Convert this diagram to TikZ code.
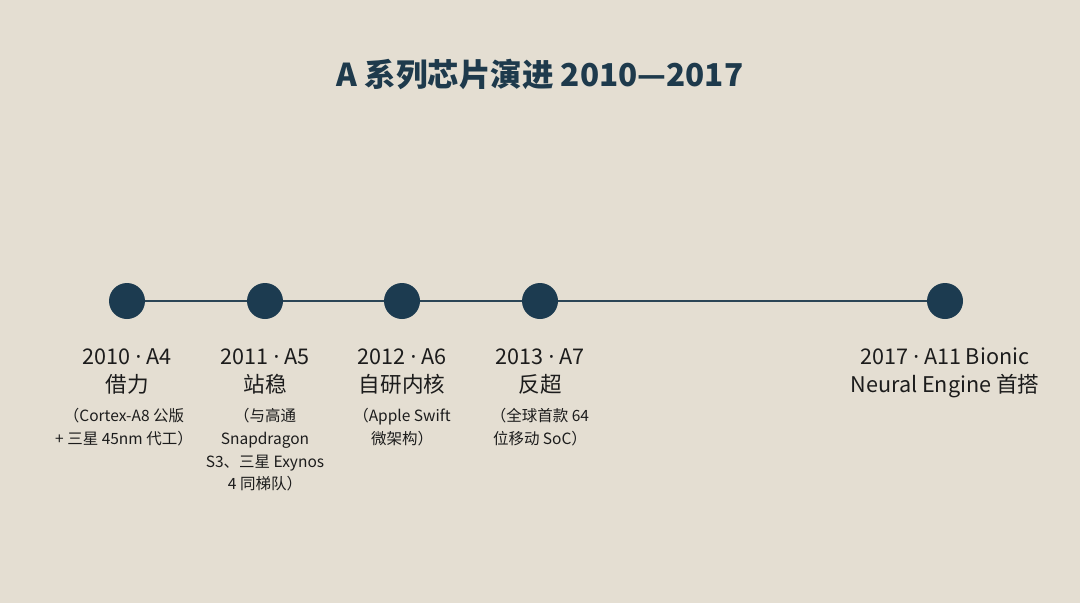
\documentclass[tikz,border=0pt]{standalone}
\usepackage{fontspec}
\setmainfont{Noto Sans CJK SC}
\newfontfamily\latinf{Noto Sans}
\newcommand{\mdot}{{\latinf ·}}
\usetikzlibrary{backgrounds}
\definecolor{bgc}{HTML}{E4DED2}
\definecolor{dotc}{HTML}{1C3B50}
\definecolor{linec}{HTML}{2B4556}
\definecolor{titlec}{HTML}{1E3A4C}
\definecolor{txtc}{HTML}{1C1C1C}
\tikzset{
  dot/.style={circle,fill=dotc,draw=none,minimum size=36pt,inner sep=0pt},
  tl/.style={draw=linec,line width=2pt},
  head/.style={anchor=base,align=center,inner sep=0pt,text=txtc,font={\fontsize{21.6}{28.5}\selectfont}},
  sub/.style={anchor=base,align=center,inner sep=0pt,text=txtc,font={\fontsize{15.5}{22.8}\selectfont}},
  ttl/.style={anchor=base,inner sep=0pt,text=titlec,font={\fontsize{31.5}{38}\selectfont\bfseries}}
}
\begin{document}
\begin{tikzpicture}[x=1pt,y=-1pt]
\useasboundingbox (0,0) rectangle (1080,603);
\node[ttl] (title) at (540,86.5) {A 系列芯片演进 2010—2017};
\node[dot] (c1) at (127,301) {};
\node[dot] (c2) at (265,301) {};
\node[dot] (c3) at (402,301) {};
\node[dot] (c4) at (540,301) {};
\node[dot] (c5) at (945,301) {};
\begin{scope}[on background layer]
\fill[bgc] (0,0) rectangle (1080,603);
\draw[tl] (c1) -- (c5);
\end{scope}
% anchor=base is the baseline of the last line
\node[head] (h1) at (127,392.5) {2010 \mdot{} A4\\借力};
\node[head] (h2) at (265,392.5) {2011 \mdot{} A5\\站稳};
\node[head] (h3) at (402,392.5) {2012 \mdot{} A6\\自研内核};
\node[head] (h4) at (540,392.5) {2013 \mdot{} A7\\反超};
\node[head] (h5) at (945,392.5) {2017 \mdot{} A11 Bionic\\Neural Engine 首搭};
\node[sub] (s1) at (124,444.3) {（Cortex-A8 公版\\+ 三星 45nm 代工）};
\node[sub] (s2) at (265,489.9) {（与高通\\Snapdragon\\S3、三星 Exynos\\4 同梯队）};
\node[sub] (s3) at (402,444.3) {（Apple Swift\\微架构）};
\node[sub] (s4) at (540,444.3) {（全球首款 64\\位移动 SoC）};
\end{tikzpicture}
\end{document}
